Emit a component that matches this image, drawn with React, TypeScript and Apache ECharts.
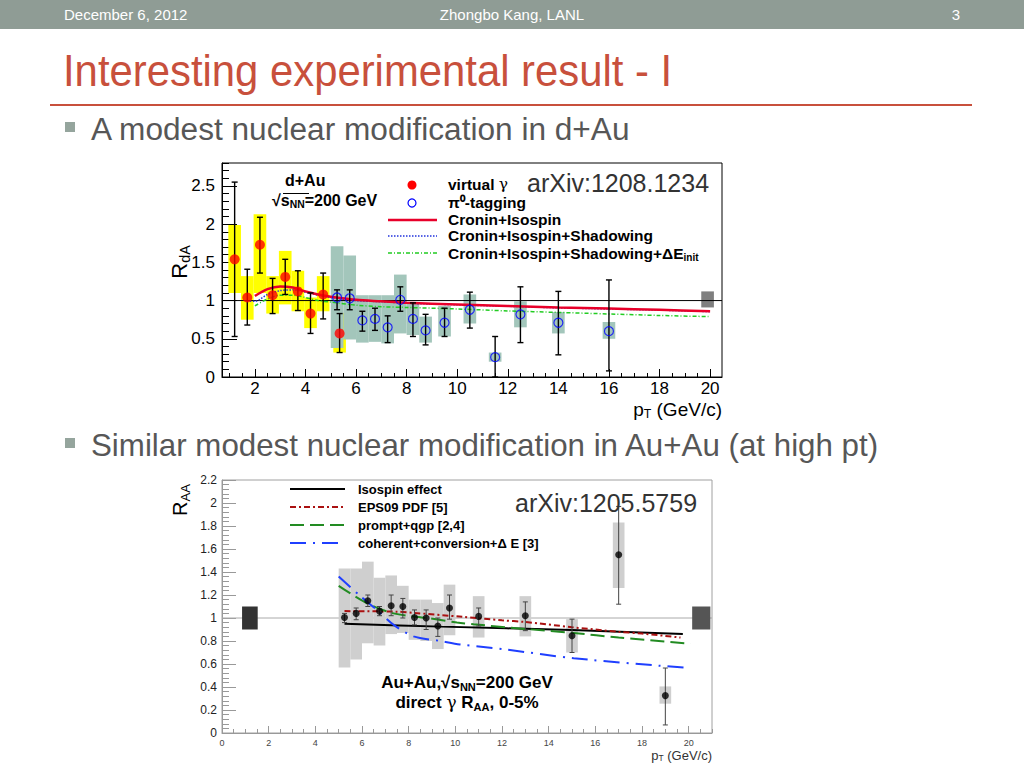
import React, { useEffect, useRef } from 'react';
import * as echarts from 'echarts';

// ---------------- Plot 1 : d+Au (arXiv:1208.1234) ----------------
const DAU_X_RANGE = [0.7, 20.47];
const DAU_Y_RANGE = [0, 2.8];
const DAU_X_TICKS = [2, 4, 6, 8, 10, 12, 14, 16, 18, 20];
const DAU_Y_TICKS = [0, 0.5, 1, 1.5, 2, 2.5];

// virtual photon (red filled circles, yellow systematic boxes)
const VG_X = [1.2, 1.7, 2.2, 2.7, 3.2, 3.7, 4.2, 4.7, 5.35];
const VG_Y = [1.54, 1.04, 1.73, 1.07, 1.31, 1.12, 0.83, 1.08, 0.57];
const VG_ERR_LO = [0.53, 0.68, 1.36, 0.83, 1.08, 0.87, 0.57, 0.76, 0.32];
const VG_ERR_HI = [2.55, 1.41, 2.09, 1.29, 1.54, 1.39, 1.1, 1.36, 0.83];
const VG_SYS_LO = [1.1, 0.75, 1.1, 0.83, 0.95, 0.86, 0.64, 0.86, 0.32];
const VG_SYS_HI = [1.99, 1.32, 2.13, 1.32, 1.65, 1.39, 1.04, 1.32, 0.84];

// pi0 tagging (blue open circles, teal systematic boxes)
const PI0_X = [5.25, 5.75, 6.25, 6.75, 7.25, 7.75, 8.25, 8.75, 9.5, 10.5, 11.5, 12.5, 14, 16];
const PI0_Y = [1.04, 1.03, 0.74, 0.76, 0.65, 1.01, 0.76, 0.61, 0.71, 0.88, 0.26, 0.82, 0.71, 0.6];
const PI0_ERR_LO = [0.88, 0.88, 0.6, 0.61, 0.45, 0.86, 0.53, 0.42, 0.53, 0.64, 0.0, 0.45, 0.29, 0.08];
const PI0_ERR_HI = [1.14, 1.14, 0.86, 0.9, 0.8, 1.18, 0.97, 0.82, 0.9, 1.11, 0.53, 1.18, 1.12, 1.27];
const PI0_SYS_LO = [0.38, 0.49, 0.45, 0.46, 0.44, 0.57, 0.55, 0.45, 0.53, 0.7, 0.2, 0.65, 0.57, 0.5];
const PI0_SYS_HI = [1.71, 1.59, 1.07, 1.07, 1.07, 1.34, 0.97, 0.79, 0.93, 1.08, 0.32, 0.99, 0.85, 0.72];

// normalisation uncertainty box [xLo, xHi, yLo, yHi]
const DAU_NORM = [[19.65, 20.15, 0.91, 1.12]];

// theory curves [pT, R]
const CRONIN = [[2, 1.06], [2.5, 1.15], [3, 1.185], [3.5, 1.17], [4, 1.12], [4.5, 1.08], [5, 1.05], [6, 1.01], [7, 0.99], [8, 0.97], [10, 0.95], [12, 0.93], [14, 0.91], [16, 0.895], [18, 0.88], [20, 0.86]];
const SHADOW = [[1.8, 0.99], [2, 0.99], [2.5, 1.08], [3, 1.13], [3.5, 1.14], [4, 1.11], [4.5, 1.07], [5, 1.04], [6, 1.0], [7, 0.985], [8, 0.965], [10, 0.945], [12, 0.925], [14, 0.905], [16, 0.89], [18, 0.875], [20, 0.855]];
const ELOSS = [[2, 0.93], [2.5, 1.02], [3, 1.07], [3.5, 1.07], [4, 1.04], [4.5, 1.0], [5, 0.98], [6, 0.94], [7, 0.92], [8, 0.91], [10, 0.89], [12, 0.865], [14, 0.845], [16, 0.825], [18, 0.805], [20, 0.79]];

// ---------------- Plot 2 : Au+Au (arXiv:1205.5759) ----------------
const AUAU_X_RANGE = [0, 21];
const AUAU_Y_RANGE = [0, 2.2];
const AUAU_X_TICKS = [0, 2, 4, 6, 8, 10, 12, 14, 16, 18, 20];
const AUAU_Y_TICKS = [0, 0.2, 0.4, 0.6, 0.8, 1, 1.2, 1.4, 1.6, 1.8, 2, 2.2];

const DG_X = [5.25, 5.75, 6.25, 6.75, 7.25, 7.75, 8.25, 8.75, 9.25, 9.75, 11, 13, 15, 17, 19];
const DG_Y = [1.005, 1.04, 1.15, 1.06, 1.107, 1.1, 1.005, 1.0, 0.93, 1.087, 1.014, 1.02, 0.846, 1.55, 0.325];
const DG_ERR_LO = [0.96, 0.985, 1.1, 1.02, 1.02, 1.0, 0.94, 0.9, 0.84, 0.99, 0.93, 0.89, 0.7, 1.12, 0.07];
const DG_ERR_HI = [1.04, 1.087, 1.2, 1.1, 1.2, 1.17, 1.07, 1.07, 1.0, 1.2, 1.087, 1.14, 0.99, 1.97, 0.565];
const DG_SYS_LO = [0.57, 0.64, 0.78, 0.76, 0.86, 0.87, 0.81, 0.8, 0.73, 0.85, 0.83, 0.84, 0.7, 1.26, 0.255];
const DG_SYS_HI = [1.43, 1.43, 1.49, 1.35, 1.37, 1.28, 1.16, 1.16, 1.13, 1.29, 1.19, 1.19, 0.99, 1.83, 0.405];

const AUAU_NORM_LEFT = [[0.86, 1.53, 0.9, 1.1]];
const AUAU_NORM_RIGHT = [[20.15, 20.93, 0.9, 1.1]];

const ISOSPIN = [[5.25, 0.95], [9.4, 0.925], [15, 0.895], [19.75, 0.86]];
const EPS09 = [[5.25, 1.06], [7.5, 1.055], [8.2, 1.045], [10.3, 1.01], [12, 0.98], [13, 0.965], [15, 0.92], [17, 0.88], [18, 0.865], [19.65, 0.83]];
const PROMPT = [[5, 1.28], [6.2, 1.13], [7.35, 1.04], [8.8, 1.0], [10.07, 0.96], [10.78, 0.945], [13, 0.905], [15.07, 0.87], [17, 0.83], [20.07, 0.777]];
const COHERENT = [[5, 1.36], [5.93, 1.19], [6.64, 1.07], [7.36, 0.94], [8.21, 0.84], [9.36, 0.8], [10.2, 0.77], [12.2, 0.725], [15.07, 0.65], [20, 0.565]];

// ---------------- helpers ----------------
const FONT = "'Liberation Sans', Arial, Helvetica, sans-serif";
const HALF_BIN = 0.25;

function minorTicks(from: number, to: number, step: number, majors: number[]) {
  const out: number[] = [];
  const n = Math.round((to - from) / step);
  for (let i = 0; i <= n; i++) {
    const v = +(from + i * step).toFixed(4);
    if (!majors.some((m) => Math.abs(m - v) < 1e-6)) out.push(v);
  }
  return out;
}

function zip3(a: number[], b: number[], c: number[]) {
  return a.map((v, i) => [v, b[i], c[i]]);
}

function boxRender(color: string) {
  return (_p: any, api: any) => {
    const x = api.value(0);
    const lo = api.value(1);
    const hi = api.value(2);
    const a = api.coord([x - HALF_BIN, hi]);
    const b = api.coord([x + HALF_BIN, lo]);
    return {
      type: 'rect',
      shape: { x: a[0], y: a[1], width: b[0] - a[0], height: b[1] - a[1] },
      style: { fill: color },
    };
  };
}

function normRender(color: string) {
  return (_p: any, api: any) => {
    const a = api.coord([api.value(0), api.value(3)]);
    const b = api.coord([api.value(1), api.value(2)]);
    return {
      type: 'rect',
      shape: { x: a[0], y: a[1], width: b[0] - a[0], height: b[1] - a[1] },
      style: { fill: color },
    };
  };
}

function errRender(color: string, cap: number, lw: number) {
  return (_p: any, api: any) => {
    const x = api.value(0);
    const t = api.coord([x, api.value(2)]);
    const b = api.coord([x, api.value(1)]);
    const st = { stroke: color, lineWidth: lw };
    return {
      type: 'group',
      children: [
        { type: 'line', shape: { x1: t[0], y1: t[1], x2: b[0], y2: b[1] }, style: st },
        { type: 'line', shape: { x1: t[0] - cap, y1: t[1], x2: t[0] + cap, y2: t[1] }, style: st },
        { type: 'line', shape: { x1: b[0] - cap, y1: b[1], x2: b[0] + cap, y2: b[1] }, style: st },
      ],
    };
  };
}

function subRich(size: number, weight: string, color: string, subScale = 0.65) {
  const s = size * subScale;
  return {
    m: { fontSize: size, fontWeight: weight, fontFamily: FONT, fill: color, verticalAlign: 'top', lineHeight: size },
    g: { fontSize: size, fontWeight: 'normal', fontFamily: 'DejaVu Serif, serif', fill: color, verticalAlign: 'top', lineHeight: size },
    s: { fontSize: s, fontWeight: weight, fontFamily: FONT, fill: color, verticalAlign: 'top', lineHeight: s, padding: [size * 0.45, 0, 0, 0] },
  };
}

function txt(x: number, y: number, text: string, size: number, opts: any = {}) {
  return {
    type: 'text',
    x,
    y,
    z: 50,
    rotation: opts.rotation || 0,
    scaleX: opts.scaleX || 1,
    style: {
      text,
      fontSize: size,
      fontFamily: opts.fontFamily || FONT,
      fontWeight: opts.bold ? 'bold' : 'normal',
      fill: opts.color || '#000',
      align: opts.align || 'left',
      verticalAlign: 'middle',
      rich: opts.rich,
    },
  };
}

function hline(x1: number, x2: number, y: number, color: string, lw: number, dash?: any) {
  return {
    type: 'line',
    z: 50,
    shape: { x1, y1: y, x2, y2: y },
    style: { stroke: color, lineWidth: lw, lineDash: dash },
  };
}

function xAxisPair(grid: number, range: number[], majors: number[], minors: number[], color: string, majLen: number, minLen: number, labelSize: number, labelColor: string, margin: number) {
  return [
    {
      type: 'value', gridIndex: grid, position: 'bottom', min: range[0], max: range[1],
      axisLine: { show: true, lineStyle: { color, width: 1 } },
      axisTick: { show: true, inside: true, length: majLen, customValues: majors, lineStyle: { color, width: 1 } },
      axisLabel: { show: true, customValues: majors, fontSize: labelSize, color: labelColor, fontFamily: FONT, margin },
      splitLine: { show: false },
    },
    {
      type: 'value', gridIndex: grid, position: 'bottom', min: range[0], max: range[1],
      axisLine: { show: false },
      axisTick: { show: true, inside: true, length: minLen, customValues: minors, lineStyle: { color, width: 1 } },
      axisLabel: { show: false },
      splitLine: { show: false },
    },
  ];
}

function yAxisPair(grid: number, range: number[], majors: number[], minors: number[], color: string, majLen: number, minLen: number, labelSize: number, labelColor: string, margin: number) {
  return [
    {
      type: 'value', gridIndex: grid, position: 'left', min: range[0], max: range[1],
      axisLine: { show: true, lineStyle: { color, width: 1 } },
      axisTick: { show: true, inside: true, length: majLen, customValues: majors, lineStyle: { color, width: 1 } },
      axisLabel: { show: true, customValues: majors, fontSize: labelSize, color: labelColor, fontFamily: FONT, margin },
      splitLine: { show: false },
    },
    {
      type: 'value', gridIndex: grid, position: 'left', min: range[0], max: range[1],
      axisLine: { show: false },
      axisTick: { show: true, inside: true, length: minLen, customValues: minors, lineStyle: { color, width: 1 } },
      axisLabel: { show: false },
      splitLine: { show: false },
    },
  ];
}

function curve(data: number[][], xi: number, yi: number, color: string, width: number, dash: any, z = 3) {
  return {
    type: 'line', xAxisIndex: xi, yAxisIndex: yi, data, showSymbol: false, symbol: 'none',
    smooth: 0.3, lineStyle: { color, width, type: dash }, z, silent: true,
  };
}

export default function App() {
  const ref = useRef<HTMLDivElement>(null);

  useEffect(() => {
    if (!ref.current) return;
    const chart = echarts.init(ref.current, undefined, { renderer: 'svg' });

    const dauXMinor = minorTicks(1, 20, 0.5, DAU_X_TICKS);
    const dauYMinor = minorTicks(0, 2.8, 0.1, DAU_Y_TICKS);
    const auXMinor = minorTicks(0, 21, 0.5, AUAU_X_TICKS);
    const auYMinor = minorTicks(0, 2.2, 0.04, AUAU_Y_TICKS);

    const xAxes = [
      ...xAxisPair(0, DAU_X_RANGE, DAU_X_TICKS, dauXMinor, '#000', 8, 4, 17, '#000', 3),
      ...xAxisPair(1, AUAU_X_RANGE, AUAU_X_TICKS, auXMinor, '#999', 7, 4, 9, '#444', 5),
    ];
    const yAxes = [
      ...yAxisPair(0, DAU_Y_RANGE, DAU_Y_TICKS, dauYMinor, '#000', 15, 7, 17, '#000', 7),
      ...yAxisPair(1, AUAU_Y_RANGE, AUAU_Y_TICKS, auYMinor, '#999', 14, 7, 12, '#222', 5),
    ];

    const dauLegendRich = subRich(15.5, 'bold', '#000');
    const annRich = subRich(17, 'bold', '#000');

    const graphic: any[] = [
      // slide header
      { type: 'rect', z: 40, shape: { x: 0, y: 0, width: 1024, height: 29 }, style: { fill: '#8f9c95' } },
      txt(64, 14.5, 'December 6, 2012', 15, { color: '#ffffff' }),
      txt(512, 14.5, 'Zhongbo Kang, LANL', 15, { color: '#ffffff', align: 'center' }),
      txt(956, 14.5, '3', 15, { color: '#ffffff', align: 'center' }),
      txt(63, 70, 'Interesting experimental result - I', 45, { color: '#c8503c', scaleX: 0.93 }),
      { type: 'line', z: 40, shape: { x1: 50, y1: 105, x2: 972, y2: 105 }, style: { stroke: '#c8503c', lineWidth: 2 } },
      { type: 'rect', z: 40, shape: { x: 65, y: 122, width: 10, height: 10 }, style: { fill: '#95a59d' } },
      txt(91, 130, 'A modest nuclear modification in d+Au', 31, { color: '#575757', scaleX: 1.02 }),
      { type: 'rect', z: 40, shape: { x: 65, y: 438, width: 10, height: 10 }, style: { fill: '#95a59d' } },
      txt(91, 446, 'Similar modest nuclear modification in Au+Au (at high pt)', 31, { color: '#575757', scaleX: 1.01 }),

      // plot 1 labels and legend
      txt(285, 180, 'd+Au', 16, { bold: true }),
      txt(272, 200, '{m|√}{m|s}{s|NN}{m|=200 GeV}', 16, { bold: true, rich: subRich(16, 'bold', '#000') }),
      hline(283, 309, 193.5, '#000', 1),
      { type: 'circle', z: 50, shape: { cx: 412, cy: 185, r: 4.5 }, style: { fill: '#ff0000' } },
      { type: 'circle', z: 50, shape: { cx: 412, cy: 203, r: 4 }, style: { fill: 'none', stroke: '#0000ff', lineWidth: 1.2 } },
      hline(388, 437, 220, '#e8002a', 2.5),
      hline(388, 437, 236, '#2233dd', 1.5, [1.5, 1.5]),
      hline(388, 437, 253, '#22cc22', 1.5, [4, 2, 1, 2]),
      txt(448, 184, '{m|virtual }{g|γ}', 15.5, { bold: true, rich: dauLegendRich }),
      txt(448, 202, 'π⁰-tagging', 15.5, { bold: true }),
      txt(448, 219, 'Cronin+Isospin', 15.5, { bold: true }),
      txt(448, 235.5, 'Cronin+Isospin+Shadowing', 15.5, { bold: true }),
      txt(448, 253, '{m|Cronin+Isospin+Shadowing+ΔE}{s|init}', 15.5, { bold: true, rich: dauLegendRich }),
      txt(527, 183, 'arXiv:1208.1234', 25, { color: '#333' }),
      txt(179, 262, '{m|R}{s|dA}', 22, { rotation: Math.PI / 2, align: 'center', rich: subRich(22, 'normal', '#000') }),
      txt(722, 409, '{m|p}{s|T}{m| (GeV/c)}', 19, { align: 'right', rich: subRich(19, 'normal', '#000') }),

      // plot 2 labels and legend
      hline(290, 345, 489, '#000', 2),
      hline(290, 345, 507, '#aa1111', 2, [6, 3, 2, 3]),
      hline(290, 345, 525, '#228b22', 2, [14, 6]),
      hline(290, 345, 543, '#1f3fff', 2, [16, 7, 2, 7]),
      txt(358, 489, 'Isospin effect', 13, { bold: true }),
      txt(358, 507, 'EPS09 PDF [5]', 13, { bold: true }),
      txt(358, 525, 'prompt+qgp [2,4]', 13, { bold: true }),
      txt(358, 543, 'coherent+conversion+Δ E [3]', 13, { bold: true }),
      txt(515, 503, 'arXiv:1205.5759', 25, { color: '#333' }),
      txt(467, 682, '{m|Au+Au,√s}{s|NN}{m|=200 GeV}', 17, { bold: true, align: 'center', rich: annRich }),
      txt(467, 702, '{m|direct }{g|γ}{m| R}{s|AA}{m|, 0-5%}', 17, { bold: true, align: 'center', rich: annRich }),
      txt(180, 500, '{m|R}{s|AA}', 20, { rotation: Math.PI / 2, align: 'center', rich: subRich(20, 'normal', '#000') }),
      txt(712, 755, '{m|p}{s|T}{m| (GeV/c)}', 13, { align: 'right', rich: subRich(13, 'normal', '#333') }),
    ];

    const option: any = {
      animation: false,
      backgroundColor: '#ffffff',
      grid: [
        { left: 222, top: 163, width: 500, height: 214, show: true, borderColor: '#000', borderWidth: 1, backgroundColor: 'rgba(0,0,0,0)' },
        { left: 222, top: 480, width: 490, height: 253, show: true, borderColor: '#a0a0a0', borderWidth: 1, backgroundColor: 'rgba(0,0,0,0)' },
      ],
      xAxis: xAxes,
      yAxis: yAxes,
      graphic,
      series: [
        // ---- plot 1 ----
        { type: 'custom', xAxisIndex: 0, yAxisIndex: 0, renderItem: boxRender('#ffff00'), data: zip3(VG_X, VG_SYS_LO, VG_SYS_HI), encode: { x: 0, y: [1, 2] }, z: 1, silent: true },
        { type: 'custom', xAxisIndex: 0, yAxisIndex: 0, renderItem: boxRender('#a3c6bb'), data: zip3(PI0_X, PI0_SYS_LO, PI0_SYS_HI), encode: { x: 0, y: [1, 2] }, z: 1, silent: true },
        { type: 'custom', xAxisIndex: 0, yAxisIndex: 0, renderItem: normRender('#7f7f7f'), data: DAU_NORM, encode: { x: [0, 1], y: [2, 3] }, z: 1, silent: true },
        { type: 'line', xAxisIndex: 0, yAxisIndex: 0, data: [[DAU_X_RANGE[0], 1], [DAU_X_RANGE[1], 1]], showSymbol: false, symbol: 'none', lineStyle: { color: '#000', width: 1 }, z: 2, silent: true },
        curve(ELOSS, 0, 0, '#22cc22', 1.5, [4, 2, 1, 2]),
        curve(SHADOW, 0, 0, '#2233dd', 1.5, [1.5, 1.5]),
        curve(CRONIN, 0, 0, '#e8002a', 2.5, 'solid'),
        { type: 'custom', xAxisIndex: 0, yAxisIndex: 0, renderItem: errRender('#000', 3, 1.4), data: zip3(VG_X, VG_ERR_LO, VG_ERR_HI), encode: { x: 0, y: [1, 2] }, z: 4, silent: true },
        { type: 'custom', xAxisIndex: 0, yAxisIndex: 0, renderItem: errRender('#000', 3, 1.4), data: zip3(PI0_X, PI0_ERR_LO, PI0_ERR_HI), encode: { x: 0, y: [1, 2] }, z: 4, silent: true },
        { type: 'scatter', xAxisIndex: 0, yAxisIndex: 0, data: VG_X.map((x, i) => [x, VG_Y[i]]), symbol: 'circle', symbolSize: 10, itemStyle: { color: '#ff0000' }, z: 5, silent: true },
        { type: 'scatter', xAxisIndex: 0, yAxisIndex: 0, data: PI0_X.map((x, i) => [x, PI0_Y[i]]), symbol: 'circle', symbolSize: 9, itemStyle: { color: 'rgba(0,0,0,0)', borderColor: '#0000ff', borderWidth: 1.2 }, z: 5, silent: true },

        // ---- plot 2 ----
        { type: 'custom', xAxisIndex: 2, yAxisIndex: 2, renderItem: boxRender('#cfcfcf'), data: zip3(DG_X, DG_SYS_LO, DG_SYS_HI), encode: { x: 0, y: [1, 2] }, z: 1, silent: true },
        { type: 'custom', xAxisIndex: 2, yAxisIndex: 2, renderItem: normRender('#333333'), data: AUAU_NORM_LEFT, encode: { x: [0, 1], y: [2, 3] }, z: 1, silent: true },
        { type: 'custom', xAxisIndex: 2, yAxisIndex: 2, renderItem: normRender('#555555'), data: AUAU_NORM_RIGHT, encode: { x: [0, 1], y: [2, 3] }, z: 1, silent: true },
        { type: 'line', xAxisIndex: 2, yAxisIndex: 2, data: [[AUAU_X_RANGE[0], 1], [AUAU_X_RANGE[1], 1]], showSymbol: false, symbol: 'none', lineStyle: { color: '#aaaaaa', width: 1 }, z: 0, silent: true },
        curve(ISOSPIN, 2, 2, '#000000', 2, 'solid'),
        curve(EPS09, 2, 2, '#aa1111', 2, [6, 3, 2, 3]),
        curve(PROMPT, 2, 2, '#228b22', 2, [14, 6]),
        curve(COHERENT, 2, 2, '#1f3fff', 2, [16, 7, 2, 7]),
        { type: 'custom', xAxisIndex: 2, yAxisIndex: 2, renderItem: errRender('#444', 2.5, 1), data: zip3(DG_X, DG_ERR_LO, DG_ERR_HI), encode: { x: 0, y: [1, 2] }, z: 4, silent: true },
        { type: 'scatter', xAxisIndex: 2, yAxisIndex: 2, data: DG_X.map((x, i) => [x, DG_Y[i]]), symbol: 'circle', symbolSize: 7, itemStyle: { color: '#000' }, z: 5, silent: true },
      ],
    };

    chart.setOption(option);
    return () => chart.dispose();
  }, []);

  return (
    <div
      ref={ref}
      style={{ position: 'absolute', left: 0, top: 0, width: 1024, height: 768, background: '#fff' }}
    />
  );
}
